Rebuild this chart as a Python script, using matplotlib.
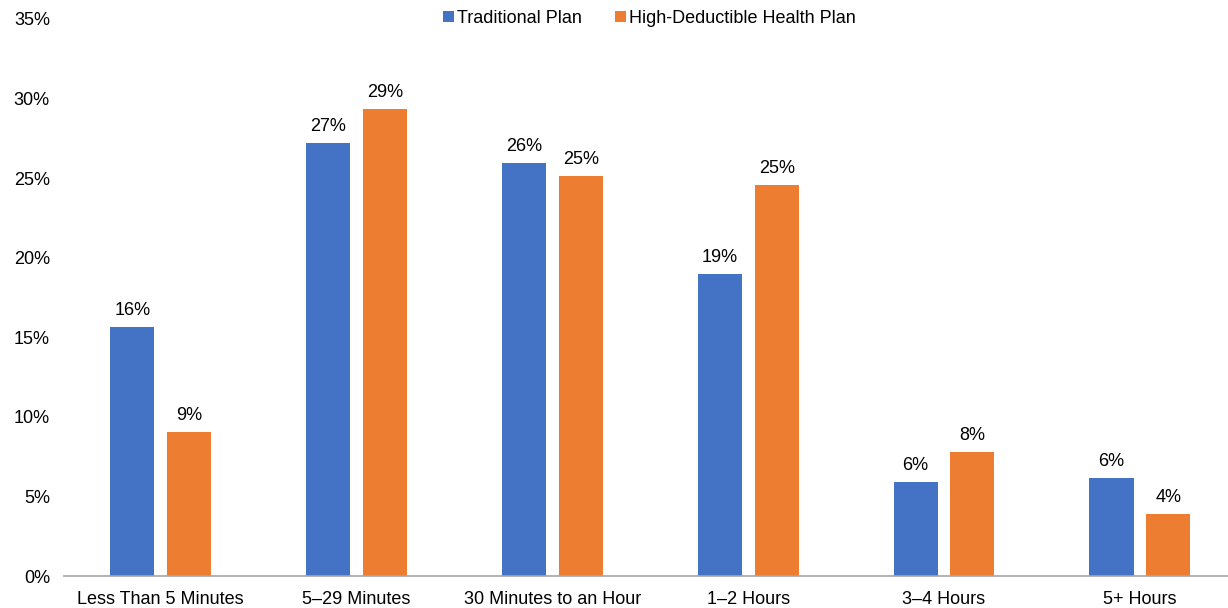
import numpy as np
import matplotlib.pyplot as plt
from matplotlib.ticker import FuncFormatter

plt.rcParams['font.family'] = ['Liberation Sans', 'DejaVu Sans']

categories = ["Less Than 5 Minutes", "5\u201329 Minutes", "30 Minutes to an Hour",
              "1\u20132 Hours", "3\u20134 Hours", "5+ Hours"]
traditional = [15.65, 27.2, 25.96, 18.98, 5.9, 6.16]
hdhp = [9.05, 29.35, 25.14, 24.57, 7.8, 3.9]
series_names = ["Traditional Plan", "High-Deductible Health Plan"]

blue = '#4472c4'
orange = '#ed7d31'

fig = plt.figure(figsize=(12.28, 6.08), dpi=100)
ax = fig.add_axes([0.052, 0.0526, 0.948, 0.9164])

x = np.arange(len(categories))
w = 0.225
off = 0.145
b1 = ax.bar(x - off, traditional, w, color=blue, label=series_names[0])
b2 = ax.bar(x + off, hdhp, w, color=orange, label=series_names[1])

# value labels above each bar
for bars, vals in ((b1, traditional), (b2, hdhp)):
    for r, v in zip(bars, vals):
        ax.text(r.get_x() + r.get_width() / 2, v + 0.5, f"{round(v):.0f}%",
                ha='center', va='bottom', fontsize=13, color='#000000')

ax.set_xlim(-0.495, len(categories) - 0.55)
ax.set_ylim(0, 35)
ax.set_yticks(np.arange(0, 36, 5))
ax.yaxis.set_major_formatter(FuncFormatter(lambda v, p: f"{v:.0f}%"))
ax.set_xticks(x)
ax.set_xticklabels(categories)
ax.tick_params(axis='both', length=0, labelsize=13, colors='#000000')
ax.tick_params(axis='y', pad=10)
ax.tick_params(axis='x', pad=11)
for s in ('top', 'right', 'left'):
    ax.spines[s].set_visible(False)
ax.spines['bottom'].set_color('#a6a6a6')
ax.spines['bottom'].set_linewidth(1.2)

ax.legend(loc='upper center', bbox_to_anchor=(0.503, 1.045), ncol=2, frameon=False,
          fontsize=13, handlelength=0.6, handleheight=0.6, handletextpad=0.2,
          columnspacing=1.8)

fig.savefig("out.png", dpi=100)
